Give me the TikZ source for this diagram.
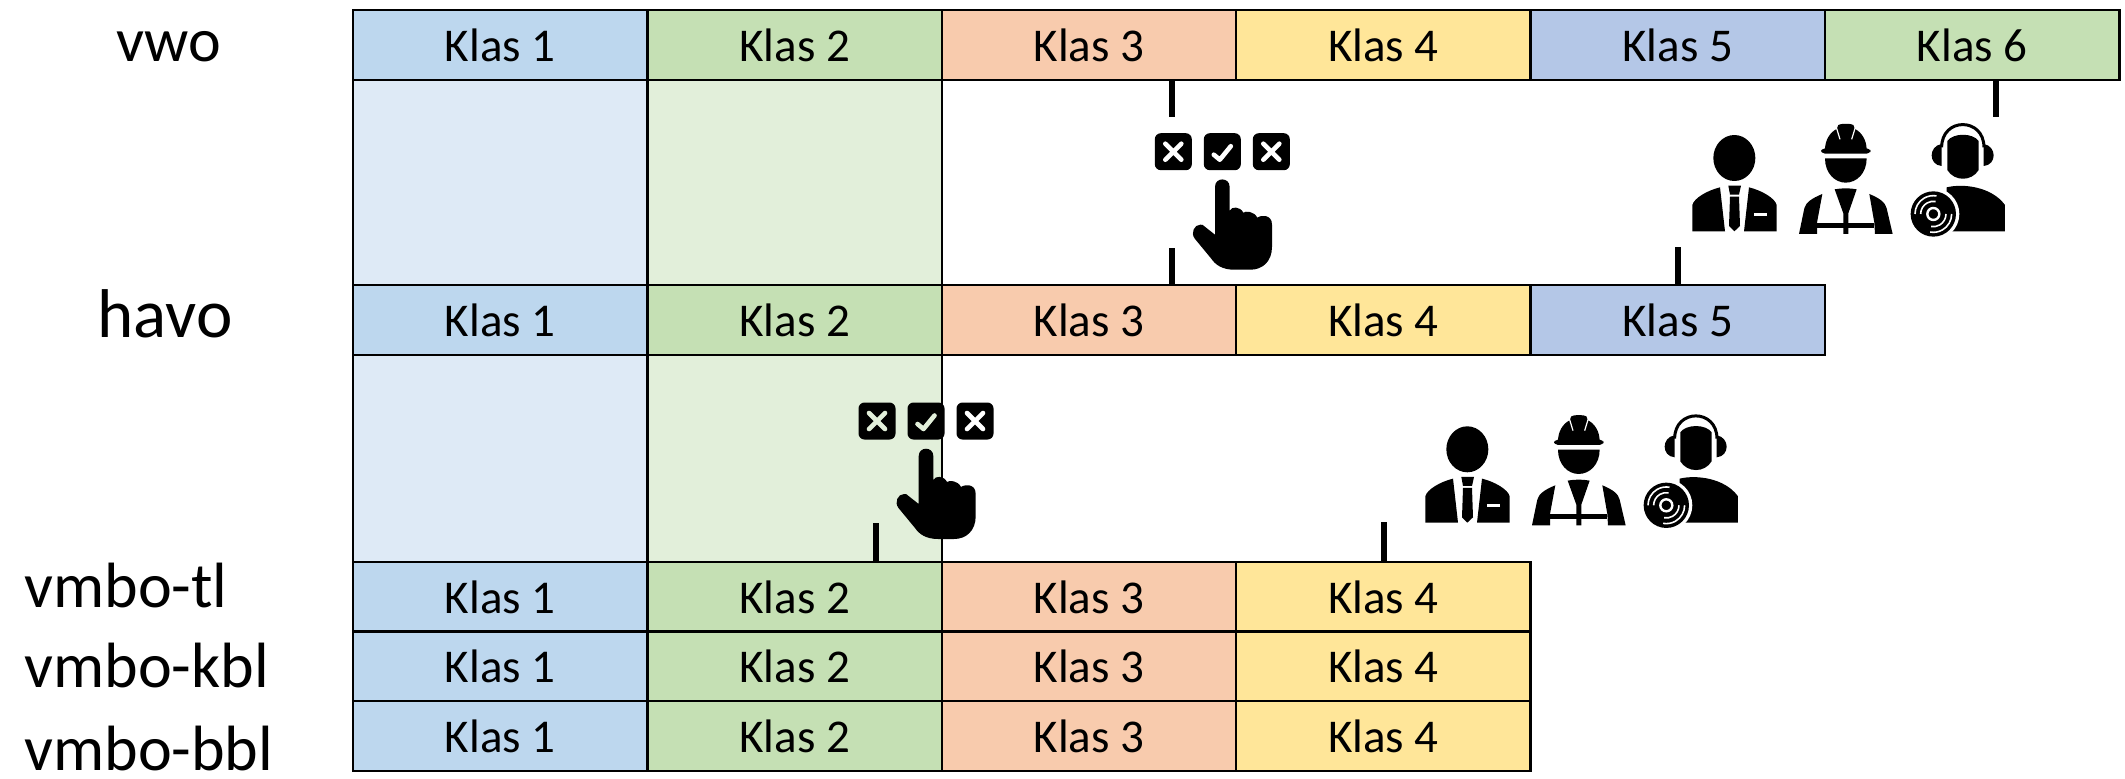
\documentclass[tikz,border=0pt]{standalone}
\usepackage{fontspec}
\setmainfont{Carlito}

\definecolor{klasblue}{HTML}{BDD7EE}
\definecolor{klasgreen}{HTML}{C5E0B4}
\definecolor{klasorange}{HTML}{F8CBAD}
\definecolor{klasyellow}{HTML}{FFE699}
\definecolor{klasviolet}{HTML}{B4C7E7}
\definecolor{paleblue}{HTML}{DEEAF6}
\definecolor{palegreen}{HTML}{E2EFDA}

\tikzset{
  pics/choice/.style 2 args={code={
    \fill[rounded corners=3pt] (-67.5,-18.5) rectangle (-30.5,18.5);
    \fill[rounded corners=3pt] (-18.5,-18.5) rectangle (18.5,18.5);
    \fill[rounded corners=3pt] (30.5,-18.5) rectangle (67.5,18.5);
    \draw[#1, line width=2.3pt, line cap=round] (-57,-8) -- (-41,8) (-57,8) -- (-41,-8);
    \draw[#2, line width=2.3pt, line cap=round, line join=round] (-8.5,3) -- (-2.5,8) -- (8.5,-5.5);
    \draw[white, line width=2.3pt, line cap=round] (41,-8) -- (57,8) (41,8) -- (57,-8);
    % hand
    \fill (-7.3,83) -- (-7.3,35) .. controls (-7.3,25.3) and (7.3,25.3) .. (7.3,35) -- (7.3,59)
      .. controls (9,54.5) and (18,54.5) .. (21,61) .. controls (23,59) and (32,59.5) .. (35,66)
      .. controls (38,63.5) and (49.7,62) .. (49.7,73) -- (49.7,95)
      .. controls (49.7,110) and (40,118) .. (28,118) -- (12,118)
      .. controls (0,118) and (-7,113) .. (-11,107) -- (-27.5,87)
      .. controls (-32,81) and (-28,73) .. (-22,73) .. controls (-20,73) and (-19,73) .. (-18.7,74) -- cycle;
  }},
  pics/roles/.style={code={
    % suit
    \fill (193,264) ellipse[x radius=63, y radius=69];
    \fill (67,484) -- (67,405) .. controls (72,385) and (110,362) .. (150,352) -- (165,484) -- cycle;
    \fill (320,484) -- (320,405) .. controls (315,385) and (277,362) .. (237,352) -- (222,484) -- cycle;
    \fill (175,347) -- (213,347) -- (207,374) -- (180,374) -- cycle;
    \fill (180,380) -- (207,380) -- (210,468) -- (193,484) -- (177,468) -- cycle;
    \fill[white] (252,428) rectangle (292,437);
    % helmet
    \fill[rounded corners=2pt] (453,235) rectangle (602,251);
    \fill (465,240) .. controls (465,210) and (480,187) .. (500,177) -- (505,165) .. controls (510,160) and (545,160) .. (550,165)
      -- (555,177) .. controls (575,187) and (590,210) .. (590,240) -- cycle;
    \draw[white, line width=.6pt] (499,172) -- (510,208) (556,172) -- (545,208);
    \fill (465,265) -- (590,265) .. controls (590,310) and (560,338) .. (527,338) .. controls (495,338) and (465,310) .. (465,265) -- cycle;
    \fill (457,372) -- (441,458) -- (441,492) -- (387,492) -- (403,415) .. controls (407,398) and (425,385) .. (457,372) -- cycle;
    \fill (598,372) -- (613,458) -- (615,492) -- (668,492) -- (650,415) .. controls (646,398) and (630,385) .. (598,372) -- cycle;
    \fill (441,458) rectangle (613,474);
    \fill (494,358) .. controls (515,354) and (540,354) .. (560,358) -- (535,430) -- (535,492) -- (520,492) -- (520,430) -- cycle;
    % headphones
    \fill (832,213) .. controls (850,188) and (908,188) .. (926,213) -- (926,300) .. controls (905,335) and (853,335) .. (832,300) -- cycle;
    \draw[line width=1.5pt] (815,232) .. controls (815,141) and (942,141) .. (942,232);
    \fill (815,222) .. controls (775,228) and (775,285) .. (815,288) -- cycle;
    \fill (941,222) .. controls (981,228) and (981,285) .. (941,288) -- cycle;
    \fill (830,352) .. controls (880,340) and (965,350) .. (1005,405) -- (1005,484) -- (830,484) -- cycle;
    \fill[white] (790,432) circle[radius=78];
    \fill (790,432) circle[radius=68];
    \draw[white, line width=1.2pt] (790,432) circle[radius=18];
    \draw[white, line width=.8pt] (752,432) arc[start angle=180, end angle=280, radius=38]
      (828,432) arc[start angle=0, end angle=100, radius=38]
      (735,432) arc[start angle=180, end angle=280, radius=55]
      (845,432) arc[start angle=0, end angle=100, radius=55];
  }}
}

\begin{document}
\begin{tikzpicture}[x=0.5pt, y=-0.5pt, node distance=147.2pt,
    block/.style={rectangle, draw, line width=1.25pt, inner sep=0pt, minimum width=147.2pt, minimum height=35pt, font=\fontsize{23.5}{27}\selectfont},
    gapblock/.style={rectangle, draw, line width=1.25pt, inner sep=0pt, minimum width=147.2pt},
    stream/.style={inner sep=0pt, font=\fontsize{32}{38}\selectfont},
    tick/.style={line width=3pt}]
    \useasboundingbox (0,0) rectangle (2125,778);

    \node[gapblock, fill=paleblue, minimum height=102.5pt] (vgapa) at (500.2,182.5) {};
    \node[gapblock, fill=palegreen, minimum height=102.5pt, right of=vgapa] (vgapb) {};
    \node[gapblock, fill=paleblue, minimum height=103.5pt] (hgapa) at (500.2,458.5) {};
    \node[gapblock, fill=palegreen, minimum height=103.5pt, right of=hgapa] (hgapb) {};

    \node[block, fill=klasblue] (v1) at (500.2,45) {Klas 1};
    \node[block, fill=klasgreen, right of=v1] (v2) {Klas 2};
    \node[block, fill=klasorange, right of=v2] (v3) {Klas 3};
    \node[block, fill=klasyellow, right of=v3] (v4) {Klas 4};
    \node[block, fill=klasviolet, right of=v4] (v5) {Klas 5};
    \node[block, fill=klasgreen, right of=v5] (v6) {Klas 6};

    \node[block, fill=klasblue] (h1) at (500.2,320) {Klas 1};
    \node[block, fill=klasgreen, right of=h1] (h2) {Klas 2};
    \node[block, fill=klasorange, right of=h2] (h3) {Klas 3};
    \node[block, fill=klasyellow, right of=h3] (h4) {Klas 4};
    \node[block, fill=klasviolet, right of=h4] (h5) {Klas 5};

    \node[block, fill=klasblue] (t1) at (500.2,597) {Klas 1};
    \node[block, fill=klasgreen, right of=t1] (t2) {Klas 2};
    \node[block, fill=klasorange, right of=t2] (t3) {Klas 3};
    \node[block, fill=klasyellow, right of=t3] (t4) {Klas 4};

    \node[block, fill=klasblue] (k1) at (500.2,666.5) {Klas 1};
    \node[block, fill=klasgreen, right of=k1] (k2) {Klas 2};
    \node[block, fill=klasorange, right of=k2] (k3) {Klas 3};
    \node[block, fill=klasyellow, right of=k3] (k4) {Klas 4};

    \node[block, fill=klasblue] (b1) at (500.2,736) {Klas 1};
    \node[block, fill=klasgreen, right of=b1] (b2) {Klas 2};
    \node[block, fill=klasorange, right of=b2] (b3) {Klas 3};
    \node[block, fill=klasyellow, right of=b3] (b4) {Klas 4};

    \node[stream, anchor=base, font=\fontsize{31}{38}\selectfont] (vwo) at (169,61) {vwo};
    \node[stream, anchor=base, font=\fontsize{34.5}{40}\selectfont] (havo) at (165,337) {havo};
    \node[stream, anchor=base west] (vmbotl) at (24,607) {vmbo-tl};
    \node[stream, anchor=base west] (vmbokbl) at (24,687) {vmbo-kbl};
    \node[stream, anchor=base west] (vmbobbl) at (24,770) {vmbo-bbl};

    \coordinate (vchoice) at (1172,117);
    \coordinate (hchoice) at (1172,248);
    \coordinate (vwork) at (1996,117);
    \coordinate (hwork) at (1678,247);
    \coordinate (tchoice) at (876,523);
    \coordinate (twork) at (1384,522);

    \draw[tick] (v3.south -| vchoice) -- (vchoice);
    \draw[tick] (hchoice) -- (h3.north -| hchoice);
    \draw[tick] (v6.south -| vwork) -- (vwork);
    \draw[tick] (hwork) -- (h5.north -| hwork);
    \draw[tick] (tchoice) -- (t2.north -| tchoice);
    \draw[tick] (twork) -- (t4.north -| twork);

    \pic (vpick) at (1222.3,151.7) {choice={white}{white}};
    \pic (hpick) at (926,421) {choice={palegreen}{palegreen}};
    \pic[scale=0.3333] (vroles) at (1670,70) {roles};
    \pic[scale=0.3333] (hroles) at (1403,361.3) {roles};
  \end{tikzpicture}
\end{document}
